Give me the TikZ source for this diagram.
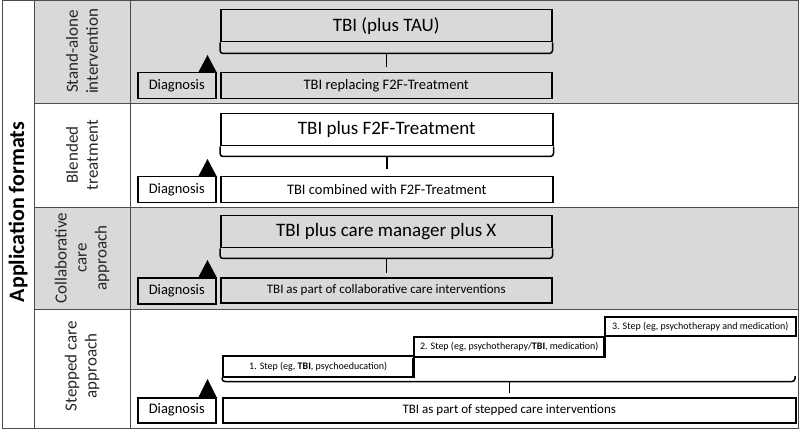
\documentclass[tikz,border=0pt]{standalone}
\usepackage{fontspec}
\setmainfont{Carlito}
\definecolor{graybg}{HTML}{D9D9D9}
\begin{document}
\begin{tikzpicture}[x=1pt,y=-1pt,
  frame/.style={draw=black!70,line width=0.9pt},
  box/.style={draw=black,line width=1.5pt,inner sep=0pt,anchor=north west,align=center},
  bigbox/.style={box,font=\fontsize{19}{22}\selectfont},
  midbox/.style={box,font=\fontsize{14.5}{17}\selectfont},
  smallbox/.style={box,font=\fontsize{13}{15}\selectfont},
  stepbox/.style={box,font=\fontsize{10}{12}\selectfont},
  brace/.style={draw=black,line width=1.5pt,rounded corners=3pt},
  tick/.style={draw=black,line width=1.5pt},
  rowlabel/.style={rotate=90,align=center,text=black!85,font=\fontsize{17}{20}\selectfont},
]
\useasboundingbox (0,0) rectangle (800,430);
% backgrounds
\fill[graybg] (34,0.5) rectangle (798,103);
\fill[graybg] (34,207) rectangle (798,309);
% table lines
\draw[frame] (2,0.5) rectangle (798,428);
\draw[frame] (34,0.5) -- (34,428);
\draw[frame] (130,0.5) -- (130,428);
\draw[frame] (34,103) -- (798,103);
\draw[frame] (34,207) -- (798,207);
\draw[frame] (34,309) -- (798,309);

% labels
\node[rotate=90,font=\bfseries\fontsize{22}{26}\selectfont] (af) at (18,212) {Application formats};
\node[rowlabel] (l1) at (82,51.5) {Stand-alone\\intervention};
\node[rowlabel] (l2) at (82,155) {Blended\\treatment};
\node[rowlabel] (l3) at (82,258) {Collaborative\\care\\approach};
\node[rowlabel] (l4) at (82,366) {Stepped care\\approach};

% row 1
\node[bigbox,fill=graybg,minimum width=331pt,minimum height=32pt] (b1) at (220,9) {TBI (plus TAU)};
\node[midbox,fill=graybg,minimum width=331pt,minimum height=26pt] (t1) at (220,72) {TBI replacing F2F-Treatment};
\node[midbox,fill=graybg,minimum width=78pt,minimum height=26pt] (d1) at (137,72) {Diagnosis};
\draw[brace] (b1.south west) -- ++(0,11) -| (b1.south east);
\draw[tick] ([yshift=-11pt]b1.south) -- ([yshift=-25pt]b1.south);
\fill (d1.north east) -- ++(-18,0) -- ++(9,-17) -- cycle;

% row 2
\node[bigbox,fill=white,minimum width=332pt,minimum height=32pt] (b2) at (220,113) {TBI plus F2F-Treatment};
\node[midbox,fill=white,minimum width=332pt,minimum height=26pt] (t2) at (220,176) {TBI combined with F2F-Treatment};
\node[midbox,fill=white,minimum width=78pt,minimum height=26pt] (d2) at (137,176) {Diagnosis};
\draw[brace] (b2.south west) -- ++(0,10) -| (b2.south east);
\draw[tick] ([yshift=-10pt]b2.south) -- ([yshift=-23pt]b2.south);
\fill (d2.north east) -- ++(-18,0) -- ++(9,-17) -- cycle;

% row 3
\node[bigbox,fill=graybg,minimum width=331pt,minimum height=32pt] (b3) at (220,215) {TBI plus care manager plus X};
\node[smallbox,fill=graybg,minimum width=331pt,minimum height=25pt] (t3) at (220,277) {TBI as part of collaborative care interventions};
\node[midbox,fill=graybg,minimum width=78pt,minimum height=26pt] (d3) at (137,277) {Diagnosis};
\draw[brace] (b3.south west) -- ++(0,10) -| (b3.south east);
\draw[tick] ([yshift=-10pt]b3.south) -- ([yshift=-25pt]b3.south);
\fill (d3.north east) -- ++(-18,0) -- ++(9,-17) -- cycle;

% row 4
\node[stepbox,fill=white,minimum width=191pt,minimum height=21pt] (s1) at (222,355) {1. Step (eg, \textbf{TBI}, psychoeducation)};
\node[stepbox,fill=white,minimum width=191pt,minimum height=20pt] (s2) at (413,336) {2. Step (eg, psychotherapy/\textbf{TBI}, medication)};
\node[stepbox,fill=white,minimum width=191pt,minimum height=19pt] (s3) at (604,316) {3. Step (eg, psychotherapy and medication)};
\draw[tick] (s2.south west) -- ++(0,20);
\draw[tick] (s3.south west) -- ++(0,20);
\node[smallbox,fill=white,minimum width=573pt,minimum height=25pt] (t4) at (222,397) {TBI as part of stepped care interventions};
\node[midbox,fill=white,minimum width=78pt,minimum height=25pt] (d4) at (137,397) {Diagnosis};
\coordinate (br4) at (795,376);
\draw[brace] (s1.south west) -- ++(0,4) -| (br4);
\path ([yshift=-4pt]s1.south west) coordinate (bl4);
\draw[tick] (bl4 -| t4.north) -- ++(0,11);
\fill (d4.north east) -- ++(-18,0) -- ++(9,-18) -- cycle;
\end{tikzpicture}
\end{document}
